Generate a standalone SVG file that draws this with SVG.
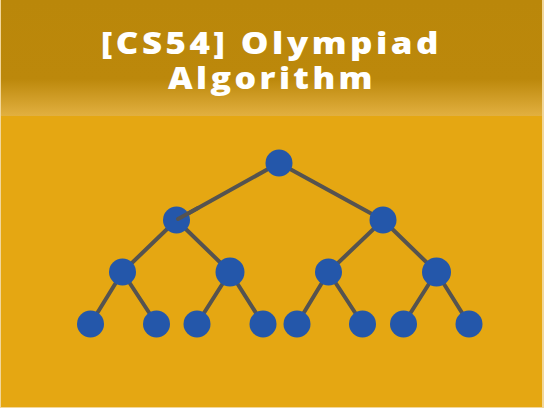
<svg xmlns="http://www.w3.org/2000/svg" width="544" height="408" viewBox="0 0 544 408">
<defs>
<linearGradient id="hdr" x1="0" y1="0" x2="0" y2="1">
<stop offset="0" stop-color="#BA870A"/>
<stop offset="0.68" stop-color="#BC880B"/>
<stop offset="1" stop-color="#E2B040"/>
</linearGradient>
<style>
.e{stroke:#555350;stroke-width:4;fill:none;stroke-linecap:round}
.n{fill:#2457AA}
.t{font-family:"Open Sans","Liberation Sans",sans-serif;font-weight:800;font-size:30px;letter-spacing:3px;fill:#FFFFFF;text-anchor:middle}
</style>
</defs>
<rect x="0" y="0" width="544" height="408" fill="#F2D79A"/>
<rect x="1" y="0" width="541" height="407" fill="#E5A712"/>
<rect x="1" y="0" width="541" height="116" fill="url(#hdr)"/>
<text class="t" x="271.5" y="53.5" textLength="341" lengthAdjust="spacingAndGlyphs">[CS54] Olympiad</text>
<text class="t" x="272" y="88.5" textLength="208" lengthAdjust="spacingAndGlyphs">Algorithm</text>
<g id="edges">
<line class="e" x1="279" y1="163" x2="176.5" y2="220"/>
<line class="e" x1="279" y1="163" x2="383" y2="220"/>
<line class="e" x1="176.5" y1="220" x2="122.5" y2="272"/>
<line class="e" x1="176.5" y1="220" x2="230" y2="272"/>
<line class="e" x1="383" y1="220" x2="328.5" y2="272"/>
<line class="e" x1="383" y1="220" x2="436.5" y2="272"/>
<line class="e" x1="122.5" y1="272" x2="90.5" y2="324"/>
<line class="e" x1="122.5" y1="272" x2="156.5" y2="324"/>
<line class="e" x1="230" y1="272" x2="197" y2="324"/>
<line class="e" x1="230" y1="272" x2="263" y2="324"/>
<line class="e" x1="328.5" y1="272" x2="297" y2="324"/>
<line class="e" x1="328.5" y1="272" x2="362.5" y2="324"/>
<line class="e" x1="436.5" y1="272" x2="403.5" y2="324"/>
<line class="e" x1="436.5" y1="272" x2="469" y2="324"/>
</g>
<g id="n0"><circle class="n" cx="279" cy="163" r="13.5"/></g>
<g id="n1"><circle class="n" cx="176.5" cy="220" r="13.5"/></g>
<g id="n2"><circle class="n" cx="383" cy="220" r="13.5"/></g>
<g id="n3"><circle class="n" cx="122.5" cy="272" r="13.5"/></g>
<g id="n4"><circle class="n" cx="230" cy="272" r="14.5"/></g>
<g id="n5"><circle class="n" cx="328.5" cy="272" r="13.5"/></g>
<g id="n6"><circle class="n" cx="436.5" cy="272" r="14.5"/></g>
<g id="n7"><circle class="n" cx="90.5" cy="324" r="13.5"/></g>
<g id="n8"><circle class="n" cx="156.5" cy="324" r="13.5"/></g>
<g id="n9"><circle class="n" cx="197" cy="324" r="13.5"/></g>
<g id="n10"><circle class="n" cx="263" cy="324" r="13.5"/></g>
<g id="n11"><circle class="n" cx="297" cy="324" r="13.5"/></g>
<g id="n12"><circle class="n" cx="362.5" cy="324" r="13.5"/></g>
<g id="n13"><circle class="n" cx="403.5" cy="324" r="13.5"/></g>
<g id="n14"><circle class="n" cx="469" cy="324" r="13.5"/></g>
<line class="e" x1="198" y1="208" x2="178" y2="219"/>
</svg>
